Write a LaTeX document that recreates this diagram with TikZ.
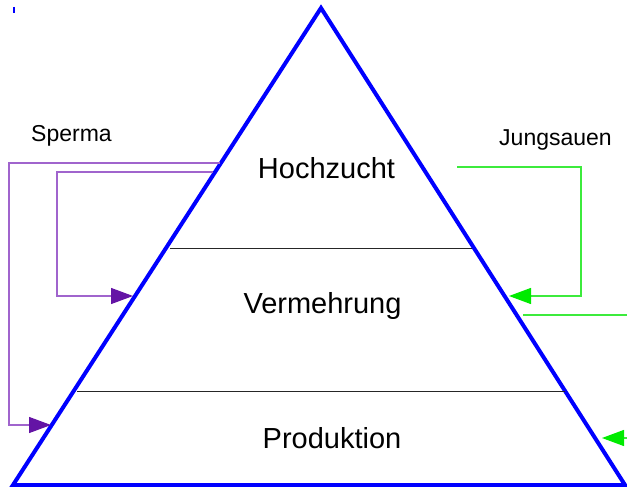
\documentclass[tikz,border=0pt]{standalone}
\usepackage{fontspec}
\setmainfont{Liberation Sans}
\usetikzlibrary{arrows.meta}

\definecolor{pyrblue}{RGB}{0,0,255}
\definecolor{spermaline}{RGB}{160,100,205}
\definecolor{spermahead}{RGB}{100,20,165}
\definecolor{sauenline}{RGB}{60,235,60}
\definecolor{sauenhead}{RGB}{0,235,0}

\begin{document}
\begin{tikzpicture}[x=1pt,y=-1pt]

	\tikzstyle{level_label} = [anchor=base, inner sep=0pt, font=\fontsize{29}{30}\selectfont]
	\tikzstyle{flow_label} = [anchor=base, inner sep=0pt, font=\fontsize{23}{24}\selectfont]
	\tikzstyle{edge_outer} = [draw=pyrblue, line width=4pt, line join=miter]
	\tikzstyle{edge_level} = [draw=black!85, line width=0.9pt]
	\tikzstyle{flow_sperma} = [draw=spermaline, line width=1.3pt, -{Triangle[length=22pt,width=16pt,fill=spermahead,color=spermahead]}]
	\tikzstyle{flow_sauen} = [draw=sauenline, line width=1.2pt, -{Triangle[length=22pt,width=16pt,fill=sauenhead,color=sauenhead]}]

	\useasboundingbox (0,0) rectangle (627,487);

%------------------------------------------------------------
	\coordinate (top) at (321,8);
	\coordinate (bl) at (13,485);
	\coordinate (br) at (625,485);

	\coordinate (l1) at (170,248);
	\coordinate (r1) at (472,248);
	\coordinate (l2) at (77,391);
	\coordinate (r2) at (565,391);

	\draw[edge_outer] (top) -- (br) -- (bl) -- cycle;
	\draw[edge_level] (l1) -- (r1);
	\draw[edge_level] (l2) -- (r2);

	\draw[pyrblue, line width=1.5pt] (14,7) -- (14,13);

%------------------------------------------------------------
	\node[level_label] (hoch) at (326.5,178) {Hochzucht};
	\node[level_label] (verm) at (322.5,313) {Vermehrung};
	\node[level_label] (prod) at (332,448) {Produktion};

	\node[flow_label] (sperma) at (71.5,142) {Sperma};
	\node[flow_label] (sauen) at (555.5,146) {Jungsauen};

%------------------------------------------------------------
	\coordinate (sp_out) at (220,163);
	\coordinate (sp_in) at (213,172);
	\coordinate (sp_prod) at (51,425);
	\coordinate (sp_verm) at (133,296);

	\draw[flow_sperma] (sp_out) -- (9,163) -- (9,425) -- (sp_prod);
	\draw[flow_sperma] (sp_in) -- (57,172) -- (57,296) -- (sp_verm);

%------------------------------------------------------------
	\coordinate (js_start) at (457,167);
	\coordinate (js_verm) at (509,296);
	\coordinate (js_side) at (523,315);
	\coordinate (js_end) at (627,315);
	\coordinate (js_in) at (627,438);
	\coordinate (js_prod) at (602,438);

	\draw[flow_sauen] (js_start) -- (581,167) -- (581,296) -- (js_verm);
	\draw[sauenline, line width=1.2pt] (js_side) -- (js_end);
	\draw[flow_sauen] (js_in) -- (js_prod);

\end{tikzpicture}
\end{document}
